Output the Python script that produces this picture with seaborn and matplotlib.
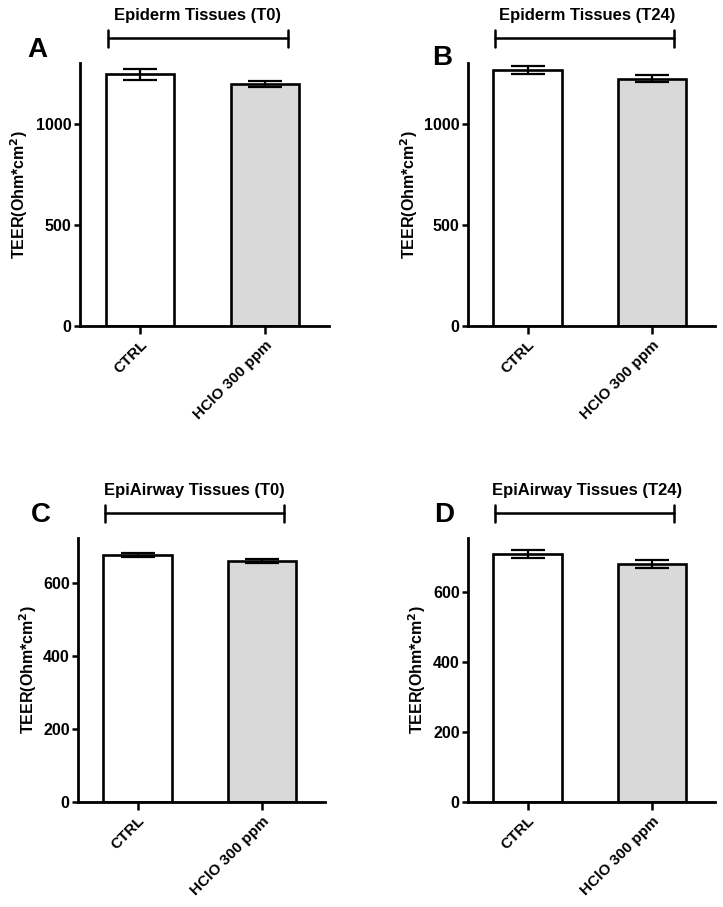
"""TEER of Epiderm and EpiAirway tissues after HClO exposure."""

import matplotlib
matplotlib.use("Agg")
import matplotlib.pyplot as plt
import matplotlib.transforms as mtransforms
import pandas as pd
import seaborn as sns

sns.set_theme(style="ticks")
plt.rcParams["font.family"] = ["Liberation Sans", "DejaVu Sans"]
plt.rcParams["font.weight"] = "bold"
plt.rcParams["mathtext.default"] = "bf"
for key in ("text.color", "axes.labelcolor", "xtick.color", "ytick.color", "axes.edgecolor"):
    plt.rcParams[key] = "black"

categories = ["CTRL", "HClO 300 ppm"]
panel_letters = ["A", "B", "C", "D"]
panel_titles = [
    "Epiderm Tissues (T0)",
    "Epiderm Tissues (T24)",
    "EpiAirway Tissues (T0)",
    "EpiAirway Tissues (T24)",
]
teer_means = [
    [1243, 1197],
    [1265, 1222],
    [676, 659],
    [708, 680],
]
teer_sem = [
    [27, 15],
    [20, 16],
    [5, 5],
    [12, 12],
]
y_ticks = [
    [0, 500, 1000],
    [0, 500, 1000],
    [0, 200, 400, 600],
    [0, 200, 400, 600],
]
y_limits = [1300, 1300, 722, 754]

bar_colors = {"CTRL": "white", "HClO 300 ppm": "#d9d9d9"}

# axes boxes in figure fraction: left, bottom, width, height
boxes = [
    [0.1107, 0.6406, 0.344, 0.2900],
    [0.6473, 0.6406, 0.342, 0.2900],
    [0.1079, 0.1158, 0.342, 0.2910],
    [0.6473, 0.1158, 0.342, 0.2910],
]
letter_pos = [(-0.17, 1.05), (-0.105, 1.02), (-0.15, 1.087), (-0.097, 1.087)]
ylabel_x = [-0.201, -0.194, -0.158, -0.162]

fig = plt.figure(figsize=(7.23, 9.07), dpi=100)

for i in range(4):
    ax = fig.add_axes(boxes[i])
    df = pd.DataFrame({"group": categories, "teer": teer_means[i]})
    sns.barplot(
        data=df, x="group", y="teer", hue="group", palette=bar_colors,
        width=0.55, edgecolor="black", linewidth=1.9, errorbar=None,
        legend=False, ax=ax,
    )
    ax.errorbar(
        range(len(categories)), teer_means[i], yerr=teer_sem[i], fmt="none",
        ecolor="black", elinewidth=1.6, capsize=12, capthick=1.6, zorder=5,
    )
    ax.set_xlim(-0.48, 1.51)
    ax.set_ylim(0, y_limits[i])
    ax.set_yticks(y_ticks[i])
    ax.set_xlabel("")
    ax.set_ylabel(r"TEER(Ohm*cm$^{2}$)", fontsize=11.5, fontweight="bold")
    ax.yaxis.set_label_coords(ylabel_x[i], 0.5)
    ax.set_xticks(range(len(categories)))
    ax.set_xticklabels(categories, rotation=45, ha="right",
                       rotation_mode="anchor", fontsize=11, fontweight="bold")
    for lab in ax.get_yticklabels():
        lab.set_fontsize(11.5)
        lab.set_fontweight("bold")
    ax.tick_params(axis="y", direction="out", length=4, width=1.8, pad=2)
    ax.tick_params(axis="x", direction="out", length=5.5, width=1.8, pad=3)
    sns.despine(ax=ax)
    ax.spines["left"].set_linewidth(2)
    ax.spines["bottom"].set_linewidth(2)

    # bracket and title above the bars
    trans = mtransforms.blended_transform_factory(ax.transData, ax.transAxes)
    x0, x1, yb = -0.26, 1.18, 1.093
    ax.plot([x0, x1], [yb, yb], color="black", lw=1.8, transform=trans, clip_on=False)
    for xe in (x0, x1):
        ax.plot([xe, xe], [yb - 0.032, yb + 0.032], color="black", lw=1.8,
                transform=trans, clip_on=False)
    ax.text(0.46 if i % 2 == 0 else 0.48, 1.18, panel_titles[i], transform=trans,
            ha="center", va="center", fontsize=12, fontweight="bold")
    ax.text(letter_pos[i][0], letter_pos[i][1], panel_letters[i],
            transform=ax.transAxes, ha="center", va="center",
            fontsize=20, fontweight="bold")

fig.savefig("out.png", dpi=100)
